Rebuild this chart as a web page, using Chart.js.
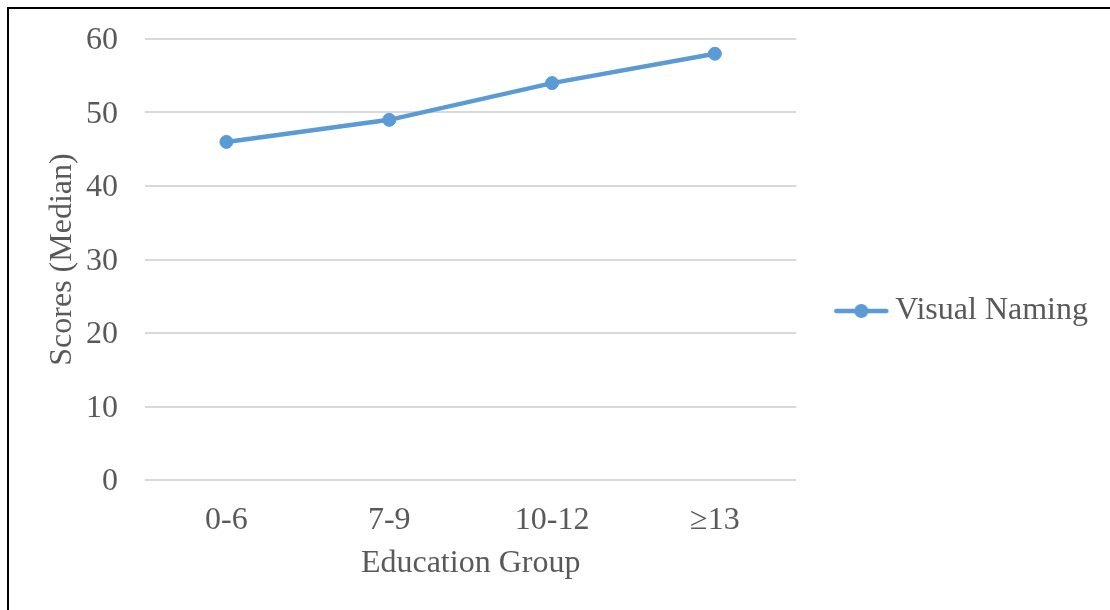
<!DOCTYPE html>
<html>
<head>
<meta charset="utf-8">
<script src="https://cdn.jsdelivr.net/npm/chart.js@4"></script>
<style>
  html, body { margin: 0; padding: 0; background: #fff; overflow: hidden; }
  #frame { position: absolute; left: 7px; top: 7px; width: 1110px; height: 610px;
           border-left: 2px solid #000; border-top: 2px solid #000; }
  #wrap { position: absolute; left: 9px; top: 9px; width: 1101px; height: 601px; }
</style>
</head>
<body>
<div id="frame"></div>
<div id="wrap"><canvas id="c"></canvas></div>
<script>
// Median visual naming scores by years of education
const categories = ['0-6', '7-9', '10-12', '\u226513'];
const visualNaming = [46, 49, 54, 58];
const yTicks = [0, 10, 20, 30, 40, 50, 60];

const lineColor = '#5B9BD5';
const textColor = '#595959';
const fontFamily = '"Liberation Serif", "Times New Roman", serif';
const fontSize = 32;

// legend marker: a short line with a dot in the middle
const marker = document.createElement('canvas');
marker.width = 56; marker.height = 16;
(function () {
  const g = marker.getContext('2d');
  g.strokeStyle = lineColor; g.fillStyle = lineColor;
  g.lineWidth = 4.5; g.lineCap = 'round';
  g.beginPath(); g.moveTo(3, 8); g.lineTo(53, 8); g.stroke();
  g.beginPath(); g.arc(28, 8, 7, 0, Math.PI * 2); g.fill();
})();

new Chart(document.getElementById('c'), {
  type: 'line',
  data: {
    labels: categories,
    datasets: [{
      label: 'Visual Naming',
      data: visualNaming,
      borderColor: lineColor,
      backgroundColor: lineColor,
      borderWidth: 4.5,
      pointRadius: 6.5,
      pointBorderWidth: 1,
      pointBackgroundColor: lineColor,
      pointBorderColor: lineColor,
      pointStyle: 'circle',
      tension: 0,
      fill: false
    }]
  },
  options: {
    responsive: true,
    maintainAspectRatio: false,
    animation: false,
    layout: { padding: { top: 30, left: 0, right: 12, bottom: 27 } },
    plugins: {
      tooltip: { enabled: false },
      legend: {
        position: 'right',
        maxWidth: 500,
        labels: {
          usePointStyle: true,
          pointStyleWidth: 36,
          padding: 47,
          color: textColor,
          font: { family: fontFamily, size: fontSize },
          generateLabels: (chart) => chart.data.datasets.map((ds, i) => ({
            text: ds.label,
            pointStyle: marker,
            fillStyle: lineColor,
            strokeStyle: lineColor,
            lineWidth: 0,
            fontColor: textColor,
            hidden: false,
            datasetIndex: i
          }))
        }
      }
    },
    scales: {
      x: {
        offset: true,
        grid: { display: false, drawTicks: false },
        border: { display: false },
        ticks: { color: textColor, padding: 21, font: { family: fontFamily, size: fontSize } },
        title: {
          display: true, text: 'Education Group', color: textColor,
          padding: { top: 0, bottom: 0 },
          font: { family: fontFamily, size: fontSize }
        },
        afterFit: (s) => { s.height = 103; }
      },
      y: {
        min: 0, max: 60,
        afterBuildTicks: (s) => { s.ticks = yTicks.map(v => ({ value: v })); },
        grid: { color: '#D9D9D9', lineWidth: 2, drawTicks: false },
        border: { display: false },
        ticks: { color: textColor, padding: 27, labelOffset: 2, font: { family: fontFamily, size: fontSize } },
        title: {
          display: true, text: 'Scores (Median)', color: textColor,
          padding: { top: 34, bottom: 0 },
          font: { family: fontFamily, size: fontSize }
        },
        afterFit: (s) => { s.width = 136; s.paddingTop = 18; s.paddingBottom = 18; }
      }
    }
  }
});
</script>
</body>
</html>
